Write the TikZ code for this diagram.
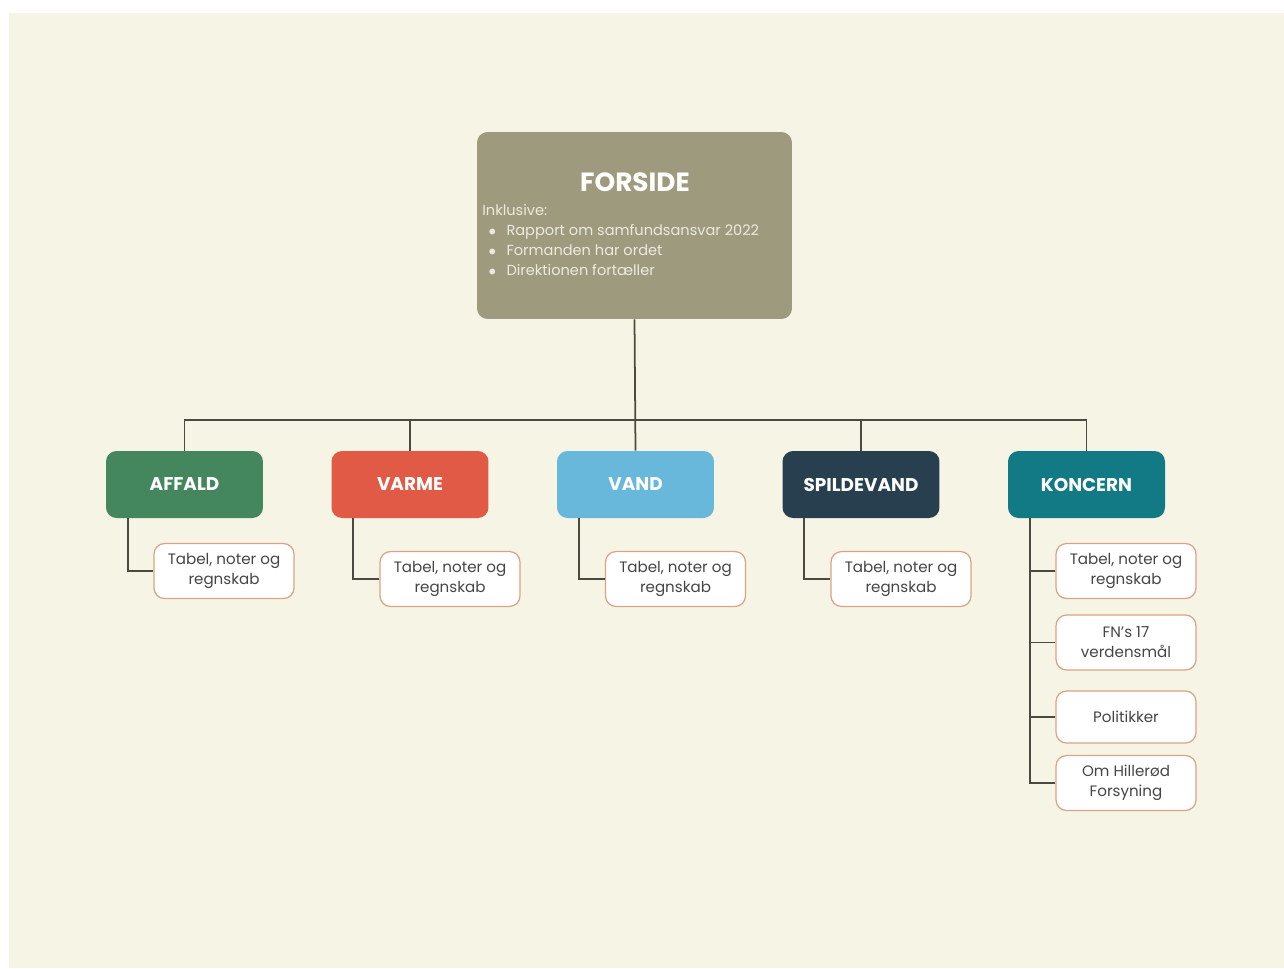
\documentclass[tikz,border=0pt]{standalone}
\usepackage{fontspec}
\setmainfont{Poppins}
\usetikzlibrary{positioning}
\definecolor{bgcream}{HTML}{F6F4E4}
\definecolor{forsidegray}{HTML}{9E9A7E}
\definecolor{affaldgreen}{HTML}{44875F}
\definecolor{varmered}{HTML}{E05A45}
\definecolor{vandblue}{HTML}{67B8DA}
\definecolor{spildenavy}{HTML}{283F4F}
\definecolor{koncernteal}{HTML}{127A84}
\definecolor{leafedge}{HTML}{D9A385}
\definecolor{wirecol}{HTML}{4A4A40}
\definecolor{textgray}{HTML}{454545}
\definecolor{introtext}{HTML}{ECEADF}

\begin{document}
\begin{tikzpicture}
[x=0.02cm,y=-0.02cm,%
  wire/.style={draw=wirecol,line width=1pt},%
  sector/.style={rectangle,rounded corners=6pt,inner sep=0pt,minimum width=3.14cm,
    minimum height=1.34cm,text=white,font=\fontsize{10.5}{12}\selectfont\bfseries},%
  leaf/.style={rectangle,rounded corners=6pt,draw=leafedge,line width=0.7pt,fill=white,
    inner sep=0pt,minimum width=2.8cm,minimum height=1.1cm,align=center,text=textgray,
    font=\fontsize{8.6}{11.4}\selectfont}]
% background
\fill[white] (0,0) rectangle (1284,968);
\fill[bgcream] (9,13) rectangle (1284,968);

% front page
\node[rectangle,rounded corners=6pt,fill=forsidegray,inner sep=0pt,
  minimum width=6.3cm,minimum height=3.74cm] (forside) at (634.5,225.5) {};
\node[text=white,font=\fontsize{15}{17}\selectfont\bfseries] (forsidetitle) at (635,182) {FORSIDE};
\node[anchor=north west,inner sep=0pt,align=left,text=introtext,
  font=\fontsize{8.3}{11.36}\selectfont] (forsideliste) at (482,204)
  {Inklusive:\\
   \hspace*{3.5pt}$\bullet$\hspace{6pt}Rapport om samfundsansvar 2022\\
   \hspace*{3.5pt}$\bullet$\hspace{6pt}Formanden har ordet\\
   \hspace*{3.5pt}$\bullet$\hspace{6pt}Direktionen fortæller};

% sectors
\node[sector,fill=affaldgreen] (affald) at (184.5,484.5) {AFFALD};
\node[sector,fill=varmered] (varme) at (410,484.5) {VARME};
\node[sector,fill=vandblue] (vand) at (635.5,484.5) {VAND};
\node[sector,fill=spildenavy] (spildevand) at (861,484.5) {SPILDEVAND};
\node[sector,fill=koncernteal] (koncern) at (1086.5,484.5) {KONCERN};

% leaves
\node[leaf] (affaldtabel) at (224,571) {Tabel, noter og\\regnskab};
\node[leaf] (varmetabel) at (450,579) {Tabel, noter og\\regnskab};
\node[leaf] (vandtabel) at (675.5,579) {Tabel, noter og\\regnskab};
\node[leaf] (spildevandtabel) at (901,579) {Tabel, noter og\\regnskab};
\node[leaf] (koncerntabel) at (1126,571) {Tabel, noter og\\regnskab};
\node[leaf] (koncernfn) at (1126,642.5) {FN's 17\\verdensmål};
\node[leaf,minimum height=1.04cm] (koncernpol) at (1126,717) {Politikker};
\node[leaf] (koncernom) at (1126,783) {Om Hillerød\\Forsyning};

% connectors
\coordinate (bus) at (635,420);
\draw[wire] (forside.south) -- (vand.north);
\draw[wire] (affald.north) |- (bus) -| (koncern.north);
\draw[wire] (varme.north) |- (bus);
\draw[wire] (spildevand.north) |- (bus);
\foreach \sec in {affald,varme,vand,spildevand}
  \draw[wire] ([xshift=0.44cm]\sec.south west) |- (\sec tabel.west);
\draw[wire] ([xshift=0.44cm]koncern.south west) |- (koncernom.west);
\foreach \leafname in {koncerntabel,koncernfn,koncernpol}
  \draw[wire] ([xshift=0.44cm]koncern.south west |- \leafname.west) -- (\leafname.west);
\end{tikzpicture}
\end{document}
